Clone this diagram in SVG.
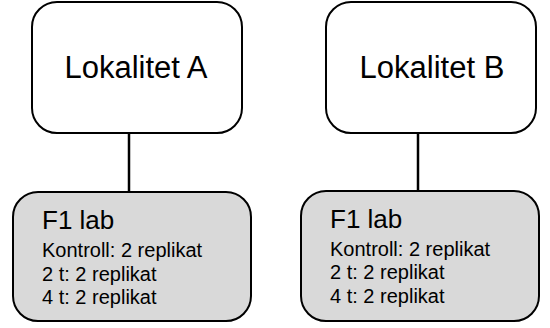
<svg xmlns="http://www.w3.org/2000/svg" width="550" height="328" viewBox="0 0 550 328">
  <style>
    .box { stroke: #000; stroke-width: 2; }
    .site { fill: #fff; }
    .lab { fill: #d9d9d9; }
    .edge { stroke: #000; stroke-width: 2.5; fill: none; }
    text { font-family: "Liberation Sans", Arial, sans-serif; fill: #000; }
    .title { font-size: 31px; text-anchor: middle; }
    .head { font-size: 26px; }
    .line { font-size: 20px; }
  </style>
  <rect width="550" height="328" fill="#fff"/>
  <g id="connectors">
    <line class="edge" x1="129" y1="133" x2="129" y2="192"/>
    <line class="edge" x1="418" y1="133" x2="418" y2="191"/>
  </g>
  <g id="site-a">
    <rect class="box site" x="32" y="2" width="210" height="131" rx="25"/>
    <text class="title" x="136" y="78">Lokalitet A</text>
  </g>
  <g id="site-b">
    <rect class="box site" x="326" y="2" width="210" height="131" rx="25"/>
    <text class="title" x="432" y="78">Lokalitet B</text>
  </g>
  <g id="lab-a">
    <rect class="box lab" x="13" y="192" width="238" height="129" rx="25"/>
    <text class="head" x="42" y="229">F1 lab</text>
    <text class="line" x="42" y="257">Kontroll: 2 replikat</text>
    <text class="line" x="42" y="281">2 t: 2 replikat</text>
    <text class="line" x="42" y="304">4 t: 2 replikat</text>
  </g>
  <g id="lab-b">
    <rect class="box lab" x="301" y="191" width="238" height="130" rx="25"/>
    <text class="head" x="330" y="228">F1 lab</text>
    <text class="line" x="330" y="256">Kontroll: 2 replikat</text>
    <text class="line" x="330" y="279">2 t: 2 replikat</text>
    <text class="line" x="330" y="303">4 t: 2 replikat</text>
  </g>
</svg>
